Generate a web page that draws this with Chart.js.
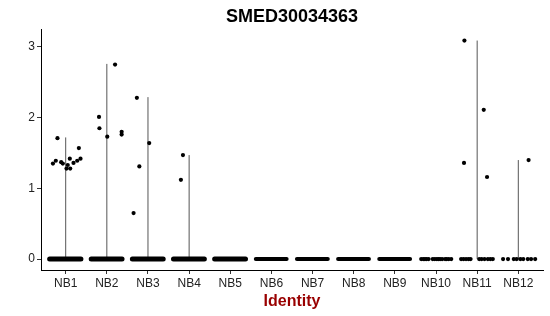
<!DOCTYPE html>
<html>
<head>
<meta charset="utf-8">
<script src="https://cdn.jsdelivr.net/npm/chart.js@4/dist/chart.umd.min.js"></script>
<style>
  html, body { margin: 0; padding: 0; background: #fff; }
  #chart { display: block; }
</style>
</head>
<body>
<canvas id="chart" width="550" height="316"></canvas>
<script>
// Cluster identities along the x axis (positions 1..12).
const categories = ['NB1', 'NB2', 'NB3', 'NB4', 'NB5', 'NB6', 'NB7', 'NB8', 'NB9', 'NB10', 'NB11', 'NB12'];
const yTicks = [0, 1, 2, 3];

// Height of the thin violin in each cluster (0 = no visible violin).
const violinTops = [1.72, 2.76, 2.29, 1.47, 0, 0, 0, 0, 0, 0, 3.09, 1.40];

// Cells with non-zero expression: cluster number, jitter offset, value.
const exprCluster = [1, 1, 1, 1, 1, 1, 1, 1, 1, 1, 1, 1, 1,
  2, 2, 2, 2, 2, 2,
  3, 3, 3, 3,
  4, 4,
  11, 11, 11, 11,
  12];
const exprOffset = [-0.20, 0.32, -0.31, -0.24, -0.11, -0.07, 0.05, 0.02, 0.11, 0.10, 0.19, 0.28, 0.36,
  0.20, -0.19, -0.18, 0.01, 0.36, 0.36,
  -0.27, 0.03, -0.21, -0.35,
  -0.15, -0.20,
  -0.31, 0.16, -0.32, 0.24,
  0.25];
const exprValue = [1.71, 1.57, 1.35, 1.39, 1.37, 1.35, 1.33, 1.28, 1.28, 1.42, 1.36, 1.39, 1.42,
  2.75, 2.01, 1.85, 1.73, 1.80, 1.76,
  2.28, 1.64, 1.31, 0.65,
  1.47, 1.12,
  3.09, 2.11, 1.36, 1.16,
  1.40];

// Clusters where zero-expression cells overlap into a solid band.
const denseZeroCluster = [1, 2, 3, 4, 5, 6, 7, 8, 9];
const denseZeroLeft = [-0.39, -0.38, -0.38, -0.38, -0.38, -0.38, -0.38, -0.38, -0.38];
const denseZeroRight = [0.37, 0.37, 0.37, 0.37, 0.37, 0.37, 0.37, 0.37, 0.37];
const denseZeroThickness = [5, 5, 5, 5, 5, 4, 4, 4, 4];

// Sparse zero-expression cells, drawn one by one.
const sparseZeroCluster = [10, 10, 10, 10, 10, 10, 10, 10, 10, 10, 10, 10, 10, 10, 10,
  11, 11, 11, 11, 11, 11, 11, 11, 11, 11, 11,
  12, 12, 12, 12, 12, 12, 12, 12, 12];
const sparseZeroOffset = [-0.36, -0.31, -0.27, -0.23, -0.18, -0.08, -0.03, 0.02, 0.06, 0.10, 0.15, 0.22, 0.26, 0.31, 0.37,
  -0.39, -0.33, -0.27, -0.21, -0.16, 0.05, 0.11, 0.18, 0.26, 0.32, 0.38,
  -0.37, -0.25, -0.11, -0.04, 0.05, 0.12, 0.23, 0.31, 0.41];

const FONT = "'Liberation Sans', Arial, Helvetica, sans-serif";

const pointData = exprCluster.map((c, i) => ({ x: c + exprOffset[i], y: exprValue[i] }))
  .concat(sparseZeroCluster.map((c, i) => ({ x: c + sparseZeroOffset[i], y: 0 })));

const datasets = [
  {
    type: 'scatter',
    data: pointData,
    pointRadius: 2.1,
    pointBackgroundColor: '#000',
    pointBorderWidth: 0,
    order: 0,
  },
];

denseZeroCluster.forEach((c, i) => {
  datasets.push({
    type: 'line',
    data: [{ x: c + denseZeroLeft[i], y: 0 }, { x: c + denseZeroRight[i], y: 0 }],
    borderColor: '#000',
    borderWidth: denseZeroThickness[i],
    borderCapStyle: 'round',
    pointRadius: 0,
    order: 1,
  });
});

violinTops.forEach((top, i) => {
  if (top <= 0) return;
  datasets.push({
    type: 'line',
    data: [{ x: i + 1, y: 0 }, { x: i + 1, y: top }],
    borderColor: '#555',
    borderWidth: 1,
    pointRadius: 0,
    order: 2,
  });
});

new Chart(document.getElementById('chart'), {
  type: 'scatter',
  data: { datasets },
  options: {
    responsive: false,
    animation: false,
    events: [],
    layout: { padding: { left: 0, right: 7, top: 0, bottom: 0 } },
    plugins: {
      legend: { display: false },
      tooltip: { enabled: false },
      title: {
        display: true,
        text: 'SMED30034363',
        fullSize: false,
        color: '#000',
        font: { family: FONT, size: 18, weight: 'bold', lineHeight: 1.2 },
        padding: { top: 6, bottom: 2 },
      },
    },
    scales: {
      x: {
        type: 'linear',
        min: 0.4,
        max: 12.6,
        afterBuildTicks: (axis) => { axis.ticks = categories.map((_, i) => ({ value: i + 1 })); },
        afterFit: (axis) => { axis.height = 46; },
        ticks: {
          autoSkip: false,
          maxRotation: 0,
          padding: 2,
          color: '#222',
          font: { family: FONT, size: 12 },
          callback: (v) => categories[v - 1],
        },
        grid: { display: true, drawOnChartArea: false, drawTicks: true, tickLength: 4, color: '#333' },
        border: { display: true, color: '#000', width: 1 },
        title: {
          display: true,
          text: 'Identity',
          color: '#990000',
          font: { family: FONT, size: 16, weight: 'bold', lineHeight: 1.2 },
          padding: { top: 0, bottom: 5 },
        },
      },
      y: {
        type: 'linear',
        min: -0.155,
        max: 3.245,
        afterBuildTicks: (axis) => { axis.ticks = yTicks.map((v) => ({ value: v })); },
        afterFit: (axis) => { axis.width = 41; },
        ticks: {
          padding: 2,
          color: '#222',
          font: { family: FONT, size: 12 },
        },
        grid: { display: true, drawOnChartArea: false, drawTicks: true, tickLength: 4, color: '#333' },
        border: { display: true, color: '#000', width: 1 },
      },
    },
  },
});
</script>
</body>
</html>
